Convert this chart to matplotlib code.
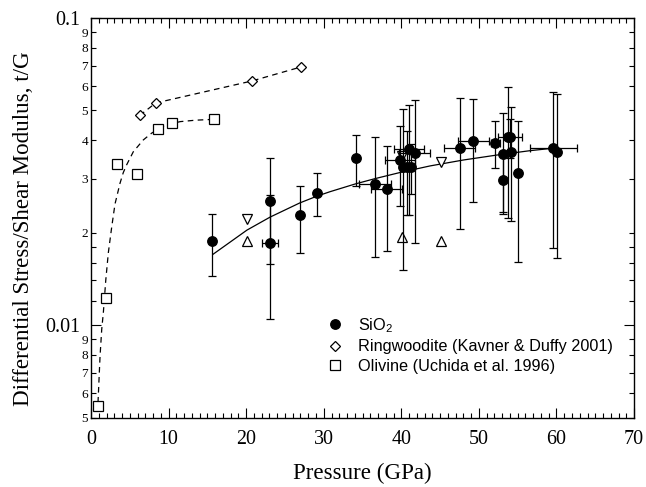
"""
Differential stress / shear modulus vs pressure (SiO2, ringwoodite, olivine)
"""
import numpy as np
import matplotlib
matplotlib.use('Agg')
import matplotlib.pyplot as plt
from matplotlib.lines import Line2D

plt.rcParams['font.family'] = 'serif'
plt.rcParams['font.serif'] = ['Liberation Serif', 'DejaVu Serif']
plt.rcParams['mathtext.default'] = 'regular'

# SiO2 data (pressure GPa, t/G, errors)
sio2_p = [15.6, 23.1, 23.1, 26.9, 29.1, 34.1, 36.6, 38.1, 39.8, 40.2, 40.7, 41.2,
          41.0, 41.7, 47.5, 49.3, 52.1, 53.1, 53.1, 53.7, 54.0, 54.1, 55.1, 59.6, 60.1]
sio2_tg = [0.0188, 0.0254, 0.0185, 0.0228, 0.0270, 0.0350, 0.0288, 0.0278, 0.0345, 0.0328,
           0.0328, 0.0328, 0.0375, 0.0363, 0.0377, 0.0398, 0.0393, 0.0361, 0.0296, 0.0409,
           0.0409, 0.0367, 0.0312, 0.0377, 0.0365]
sio2_yerr = [0.0043, 0.0096, 0.0080, 0.0056, 0.0043, 0.0067, 0.0121, 0.0104, 0.0100, 0.0177,
             0.0100, 0.0060, 0.0146, 0.0178, 0.0172, 0.0146, 0.0069, 0.0130, 0.0062, 0.0186,
             0.0060, 0.0148, 0.0151, 0.0199, 0.0199]
sio2_xerr = [0, 0, 1.05, 0, 0, 0, 2.1, 1.95, 1.9, 0, 0, 0,
             1.9, 2.0, 1.95, 2.0, 0.6, 0, 0, 0, 1.6, 0, 0, 3.0, 0]

# fitted curve through SiO2
sio2_fit_p = [15.7, 20.1, 23.1, 26.9, 29.1, 30.8, 34.0, 36.6, 39.8, 43.7, 48.0, 52.3, 56.6, 59.6]
sio2_fit_tg = [0.0170, 0.0204, 0.0225, 0.0250, 0.0263, 0.0272, 0.0288, 0.0300, 0.0314,
               0.0330, 0.0345, 0.0358, 0.0370, 0.0377]

# open triangles
tri_up_p = [20.1, 40.1, 45.1]
tri_up_tg = [0.0188, 0.0193, 0.0188]
tri_down_p = [20.1, 40.1, 45.1]
tri_down_tg = [0.0221, 0.0355, 0.0340]

# Ringwoodite (Kavner & Duffy 2001)
ring_p = [6.28, 8.34, 20.76, 27.07]
ring_tg = [0.0482, 0.0529, 0.0624, 0.0693]

# Olivine (Uchida et al. 1996)
oliv_p = [0.94, 1.93, 3.35, 5.89, 8.68, 10.4, 15.86]
oliv_tg = [0.00544, 0.01228, 0.0334, 0.0311, 0.0434, 0.0456, 0.0468]
oliv_fit_p = [0.9, 1.16, 1.38, 1.59, 1.9, 2.23, 2.67, 3.09, 3.74, 4.16, 4.6, 5.45,
              6.74, 7.82, 9.54, 11.5, 13.5, 15.9]
oliv_fit_tg = [0.0056, 0.0079, 0.0097, 0.0110, 0.0140, 0.0172, 0.0209, 0.0248, 0.0290,
               0.0314, 0.0333, 0.0367, 0.0401, 0.0422, 0.0448, 0.0460, 0.0465, 0.0468]

fig = plt.figure(figsize=(6.46, 4.87), dpi=100)
ax = fig.add_axes([0.1409, 0.1423, 0.8406, 0.8207])

# curves
ax.plot(sio2_fit_p, sio2_fit_tg, color='black', lw=0.9)
ax.plot(oliv_fit_p, oliv_fit_tg, color='black', lw=0.9, dashes=(4.5, 3.5))
ax.plot(ring_p, ring_tg, color='black', lw=0.9, dashes=(4.5, 3.5))

# triangles
ax.plot(tri_up_p, tri_up_tg, '^', ms=7, mfc='white', mec='black', mew=0.9, ls='none')
ax.plot(tri_down_p, tri_down_tg, 'v', ms=7, mfc='white', mec='black', mew=0.9, ls='none')

# SiO2 with error bars
ax.errorbar(sio2_p, sio2_tg, yerr=sio2_yerr, fmt='o', color='black', ms=6.8,
            elinewidth=0.9, capsize=3, capthick=0.9)
xe = np.array(sio2_xerr)
m = xe > 0
ax.errorbar(np.array(sio2_p)[m], np.array(sio2_tg)[m], xerr=xe[m], fmt='none',
            ecolor='black', elinewidth=0.9, capsize=3, capthick=0.9)

ax.plot(ring_p, ring_tg, 'D', ms=5, mfc='white', mec='black', mew=0.9, ls='none')
ax.plot(oliv_p, oliv_tg, 's', ms=7, mfc='white', mec='black', mew=0.9, ls='none')

# axes
ax.set_yscale('log')
ax.set_xlim(0, 70)
ax.set_ylim(0.005, 0.1)

ax.set_xticks(np.arange(0, 71, 10))
ax.set_xticks(np.arange(0, 71, 1), minor=True)
ax.set_yticks([0.01, 0.1])
ax.set_yticklabels(['0.01', '0.1'])
minor_locs = [0.005, 0.006, 0.007, 0.008, 0.009, 0.012, 0.014, 0.016, 0.018,
              0.02, 0.03, 0.04, 0.05, 0.06, 0.07, 0.08, 0.09]
minor_labels = ['5', '6', '7', '8', '9', '', '', '', '',
                '2', '3', '4', '5', '6', '7', '8', '9']
ax.set_yticks(minor_locs, minor=True)
ax.set_yticklabels(minor_labels, minor=True)

ax.tick_params(which='both', direction='in', top=True, right=True, width=0.8)
ax.tick_params(which='major', length=7, labelsize=14.4)
ax.tick_params(axis='x', which='major', pad=8.5)
ax.tick_params(axis='y', which='major', pad=7.9)
ax.tick_params(which='minor', length=3.6)
ax.tick_params(axis='y', which='minor', labelsize=9.6, pad=2)
for s in ax.spines.values():
    s.set_linewidth(1.0)

ax.set_xlabel('Pressure (GPa)', fontsize=16.6)
ax.set_ylabel('Differential Stress/Shear Modulus, t/G', fontsize=16.6)
ax.xaxis.set_label_coords(0.5, -0.112)
ax.yaxis.set_label_coords(-0.105, 0.472)

handles = [
    Line2D([], [], ls='none', marker='o', ms=6.8, color='black'),
    Line2D([], [], ls='none', marker='D', ms=5, mfc='white', mec='black', mew=0.9),
    Line2D([], [], ls='none', marker='s', ms=7, mfc='white', mec='black', mew=0.9),
]
labels = ['SiO$_2$', 'Ringwoodite (Kavner & Duffy 2001)', 'Olivine (Uchida et al. 1996)']
ax.legend(handles, labels, loc='upper left', bbox_to_anchor=(0.434, 0.2545),
          frameon=False, borderpad=0, borderaxespad=0, handlelength=1.0,
          handletextpad=0.93, labelspacing=0.29,
          prop={'family': 'Liberation Sans', 'size': 11.7})

fig.savefig('out.png', dpi=100)
